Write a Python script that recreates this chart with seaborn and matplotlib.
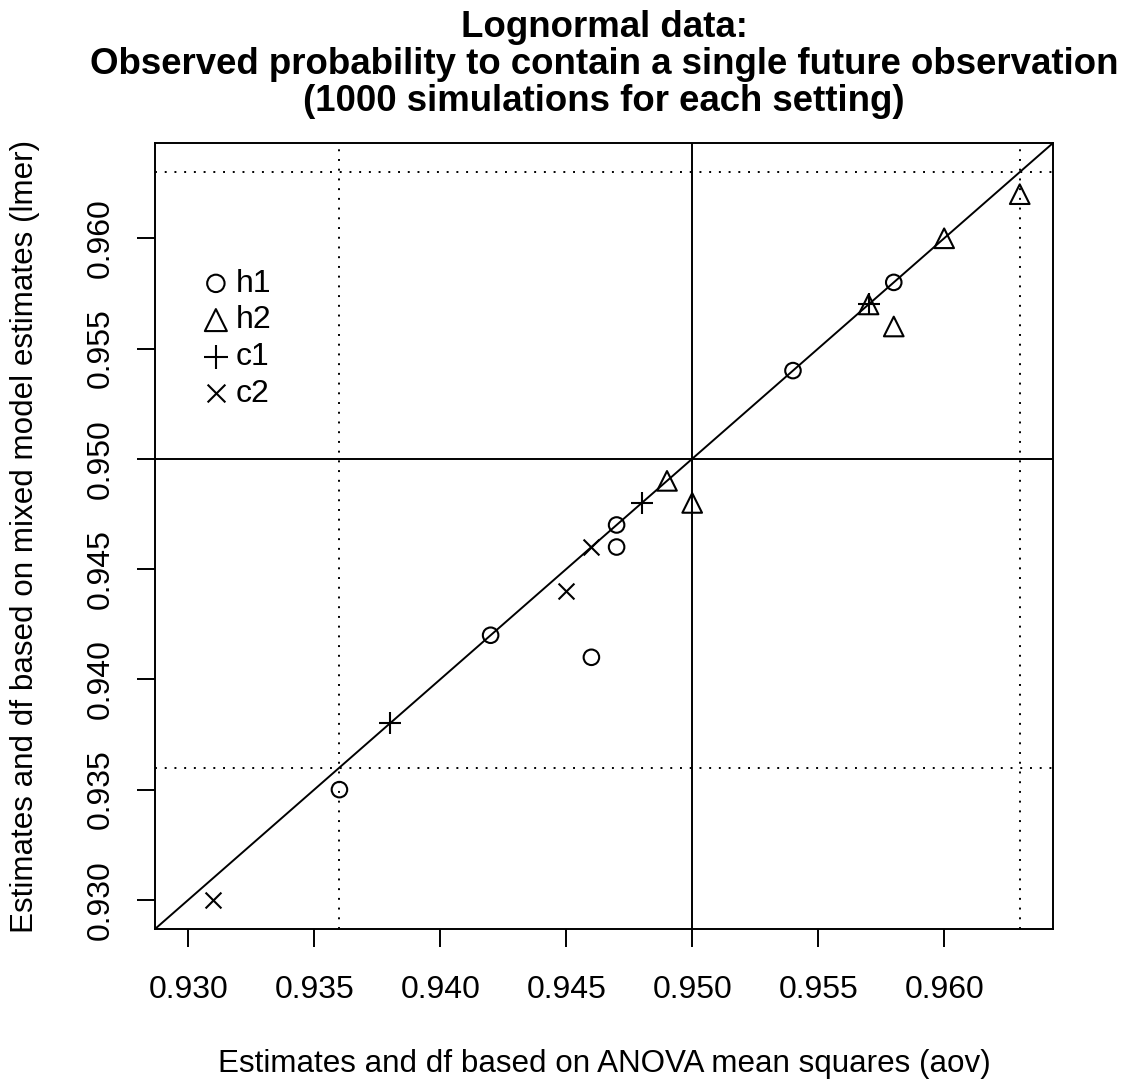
import matplotlib
matplotlib.use("Agg")
import matplotlib.pyplot as plt
import seaborn as sns
import pandas as pd
import numpy as np

# ---- data ----
h1_aov  = [0.958, 0.954, 0.947, 0.947, 0.942, 0.946, 0.936]
h1_lmer = [0.958, 0.954, 0.947, 0.946, 0.942, 0.941, 0.935]
h2_aov  = [0.963, 0.960, 0.957, 0.958, 0.949, 0.950]
h2_lmer = [0.962, 0.960, 0.957, 0.956, 0.949, 0.948]
c1_aov  = [0.957, 0.948, 0.938]
c1_lmer = [0.957, 0.948, 0.938]
c2_aov  = [0.946, 0.945, 0.931]
c2_lmer = [0.946, 0.944, 0.930]
groups = ["h1", "h2", "c1", "c2"]
ref_solid = 0.950
ref_dotted = [0.936, 0.963]
ticks = [0.930, 0.935, 0.940, 0.945, 0.950, 0.955, 0.960]

frames = []
for g, xa, ya in [("h1", h1_aov, h1_lmer), ("h2", h2_aov, h2_lmer),
                  ("c1", c1_aov, c1_lmer), ("c2", c2_aov, c2_lmer)]:
    frames.append(pd.DataFrame({"aov": xa, "lmer": ya, "group": g}))
df = pd.concat(frames, ignore_index=True)

sns.set_style("white")
plt.rcParams['font.family'] = ['Liberation Sans', 'DejaVu Sans']
plt.rcParams['text.color'] = 'black'
plt.rcParams['axes.labelcolor'] = 'black'
plt.rcParams['xtick.color'] = 'black'
plt.rcParams['ytick.color'] = 'black'

fig = plt.figure(figsize=(11.26, 10.82), dpi=100)
ax = fig.add_axes([155/1126, 1-929/1082, (1053-155)/1126, (929-143)/1082])

allv = np.concatenate([df["aov"].values, df["lmer"].values])
lo, hi = allv.min(), allv.max()
pad = (hi - lo) * 0.04
ax.set_xlim(lo - pad, hi + pad)
ax.set_ylim(lo - pad, hi + pad)

lw = 1.4
ax.axvline(ref_solid, color="black", lw=lw, zorder=1)
ax.axhline(ref_solid, color="black", lw=lw, zorder=1)
for v in ref_dotted:
    ax.axvline(v, color="black", lw=lw, ls=(0, (1, 4)), zorder=1)
    ax.axhline(v, color="black", lw=lw, ls=(0, (1, 4)), zorder=1)
ax.axline((ref_solid, ref_solid), slope=1, color="black", lw=lw, zorder=1)

styles = {
    "h1": dict(marker="o", s=125, facecolors="none", edgecolors="black", linewidths=1.5),
    "h2": dict(marker="^", s=200, facecolors="none", edgecolors="black", linewidths=1.5),
    "c1": dict(marker="+", s=240, color="black", linewidths=1.5),
    "c2": dict(marker="x", s=130, color="black", linewidths=1.5),
}
for g in groups:
    sub = df[df["group"] == g]
    sns.scatterplot(data=sub, x="aov", y="lmer", ax=ax, label=g, zorder=3, **styles[g])

leg = ax.legend(loc="upper left", bbox_to_anchor=(0.05, 0.84), frameon=False,
                fontsize=23, handletextpad=0.12, labelspacing=0.21, borderaxespad=0,
                handlelength=1.0, borderpad=0, markerscale=1.12)

ax.set_xticks(ticks)
ax.set_yticks(ticks)
ax.set_xticklabels([f"{t:.3f}" for t in ticks])
ax.set_yticklabels([f"{t:.3f}" for t in ticks], rotation=90, va="center")
ax.tick_params(axis="both", direction="out", length=13, width=1.4, labelsize=23,
               bottom=True, left=True, color="black")
ax.tick_params(axis="x", pad=20)
ax.tick_params(axis="y", pad=15)
for sp in ax.spines.values():
    sp.set_visible(True)
    sp.set_color("black")
    sp.set_linewidth(1.4)

ax.set_xlabel("Estimates and df based on ANOVA mean squares (aov)", fontsize=22.6, labelpad=32)
ax.set_ylabel("Estimates and df based on mixed model estimates (lmer)", fontsize=22.6, labelpad=33)
ax.set_title("Lognormal data:\nObserved probability to contain a single future observation\n(1000 simulations for each setting)",
             fontsize=26.4, fontweight="bold", pad=23, linespacing=1.08)

fig.savefig("out.png", dpi=100)
